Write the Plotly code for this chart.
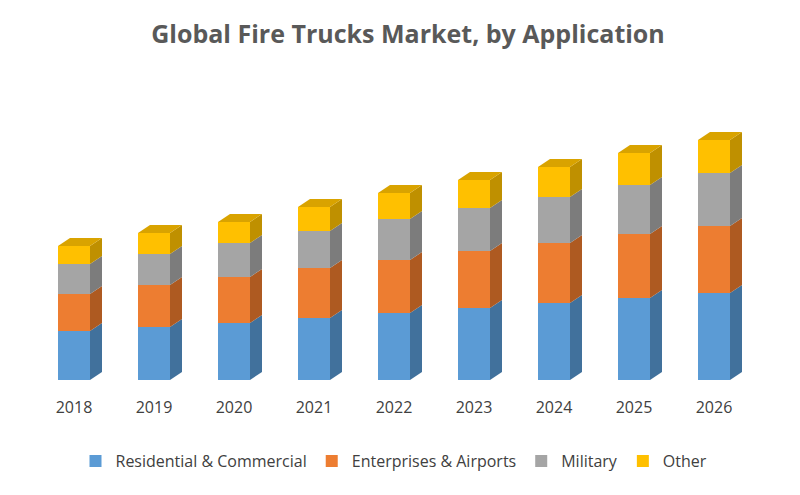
import plotly.graph_objects as go

years = ["2018","2019","2020","2021","2022","2023","2024","2025","2026"]
residential = [49,53,57,62,67,72,77,82,87]
enterprises = [37,42,46,50,53,57,60,64,67]
military = [30,31,34,37,41,43,46,49,53]
other = [18,21,21,24,26,28,30,32,33]

series = [("Residential & Commercial", residential, "#5B9BD5", "#41719C"),
          ("Enterprises & Airports", enterprises, "#ED7D31", "#AE5A21"),
          ("Military", military, "#A5A5A5", "#7C7C7C"),
          ("Other", other, "#FFC000", "#BF9000")]

W, DX, DY = 0.4, 0.15, 8
xs = list(range(len(years)))
fig = go.Figure()
base = [0]*len(years)
for name, vals, col, dark in series:
    fig.add_trace(go.Bar(x=xs, y=vals, base=base, width=W, name=name,
                         marker=dict(color=col, line=dict(width=0))))
    for i in xs:
        b, t = base[i], base[i]+vals[i]
        r = i + W/2
        fig.add_trace(go.Scatter(x=[r, r+DX, r+DX, r, r], y=[b, b+DY, t+DY, t, b],
                                 fill="toself", fillcolor=dark, mode="lines",
                                 line=dict(width=0), showlegend=False, hoverinfo="skip"))
    base = [base[i]+vals[i] for i in xs]
for i in xs:
    T = base[i]; l = i - W/2; r = i + W/2
    fig.add_trace(go.Scatter(x=[l, l+DX, r+DX, r, l], y=[T, T+DY, T+DY, T, T],
                             fill="toself", fillcolor="#D9A300", mode="lines",
                             line=dict(width=0), showlegend=False, hoverinfo="skip"))

fig.update_layout(
    width=800, height=495, barmode="overlay",
    plot_bgcolor="white", paper_bgcolor="white",
    margin=dict(l=2, r=30, t=52, b=123),
    title=dict(text="<b>Global Fire Trucks Market, by Application</b>", x=0.5, y=0.965,
               xanchor="center", font=dict(family="Open Sans", size=25, color="#595959")),
    xaxis=dict(range=[-0.8, 8.8], tickvals=xs, ticktext=years, showgrid=False,
               zeroline=False, showline=False, ticks="", ticklabelstandoff=16,
               tickfont=dict(family="Open Sans", size=16, color="#404040")),
    yaxis=dict(range=[0, 320], visible=False),
    legend=dict(orientation="h", x=0.5, xanchor="center", y=-0.2, yanchor="top",
                font=dict(family="Open Sans", size=16, color="#404040"), itemwidth=30,
                tracegroupgap=0),
)
fig.write_html("out.html")
